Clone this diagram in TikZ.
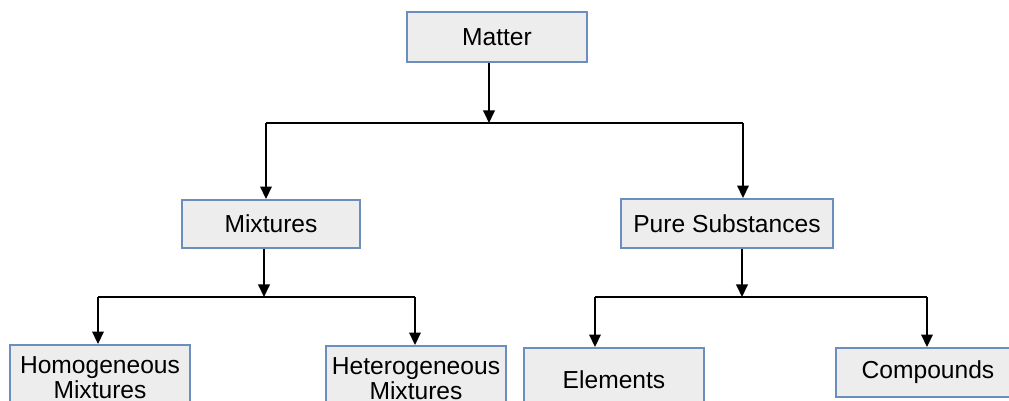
\documentclass[tikz,border=0pt]{standalone}
\usepackage{fontspec}
\setmainfont{Liberation Sans}
\usetikzlibrary{arrows.meta, positioning}
\definecolor{boxblue}{RGB}{108,142,191}
\definecolor{boxgray}{RGB}{237,237,237}
\tikzset{class/.style={draw=boxblue, fill=boxgray, line width=1.1pt, align=center, inner sep=0pt, font=\fontsize{14}{12.5}\selectfont},
  branch/.style={line width=1.1pt, -{Triangle[length=0.25cm, width=0.23cm]}}}

\begin{document}
\begin{tikzpicture}[x=0.02cm, y=-0.02cm]
            \clip (0,0) rectangle (1009,401);
            \node[class, minimum width=3.6cm, minimum height=1cm] (matter) at (497,37) {Matter};
            \node[class, minimum width=3.56cm, minimum height=0.96cm] (mixtures) at (271,224) {Mixtures};
            \node[class, minimum width=4.24cm, minimum height=0.98cm] (pure_substances) at (727,223.5) {Pure Substances};
            \node[class, minimum width=3.6cm, minimum height=1.32cm] (homogeneous) at (100,378) {Homogeneous\\Mixtures};
            \node[class, minimum width=3.6cm, minimum height=1.32cm] (heterogeneous) at (416,379) {Heterogeneous\\Mixtures};
            \node[class, minimum width=3.6cm, minimum height=1.28cm] (elements) at (614,380) {Elements};
            \node[class, minimum width=3.68cm, minimum height=0.98cm] (compounds) at (928,372.5) {Compounds};
            % junctions
            \coordinate (matter_split) at (489,123);
            \coordinate (matter_left) at (266,123);
            \coordinate (matter_right) at (743,123);
            \coordinate (mixtures_split) at (264,297);
            \coordinate (mixtures_left) at (98,297);
            \coordinate (mixtures_right) at (415,297);
            \coordinate (pure_split) at (742,297);
            \coordinate (pure_left) at (595,297);
            \coordinate (pure_right) at (927,297);
            \draw[branch] (matter.south -| matter_split) -- (matter_split);
            \draw[line width=1.1pt] (matter_left) -- (matter_right);
            \draw[branch] (matter_left) -- (mixtures.north -| matter_left);
            \draw[branch] (matter_right) -- (pure_substances.north -| matter_right);
            \draw[branch] (mixtures.south -| mixtures_split) -- (mixtures_split);
            \draw[line width=1.1pt] (mixtures_left) -- (mixtures_right);
            \draw[branch] (mixtures_left) -- (homogeneous.north -| mixtures_left);
            \draw[branch] (mixtures_right) -- (heterogeneous.north -| mixtures_right);
            \draw[branch] (pure_substances.south -| pure_split) -- (pure_split);
            \draw[line width=1.1pt] (pure_left) -- (pure_right);
            \draw[branch] (pure_left) -- (elements.north -| pure_left);
            \draw[branch] (pure_right) -- (compounds.north -| pure_right);
      \end{tikzpicture}
\end{document}
